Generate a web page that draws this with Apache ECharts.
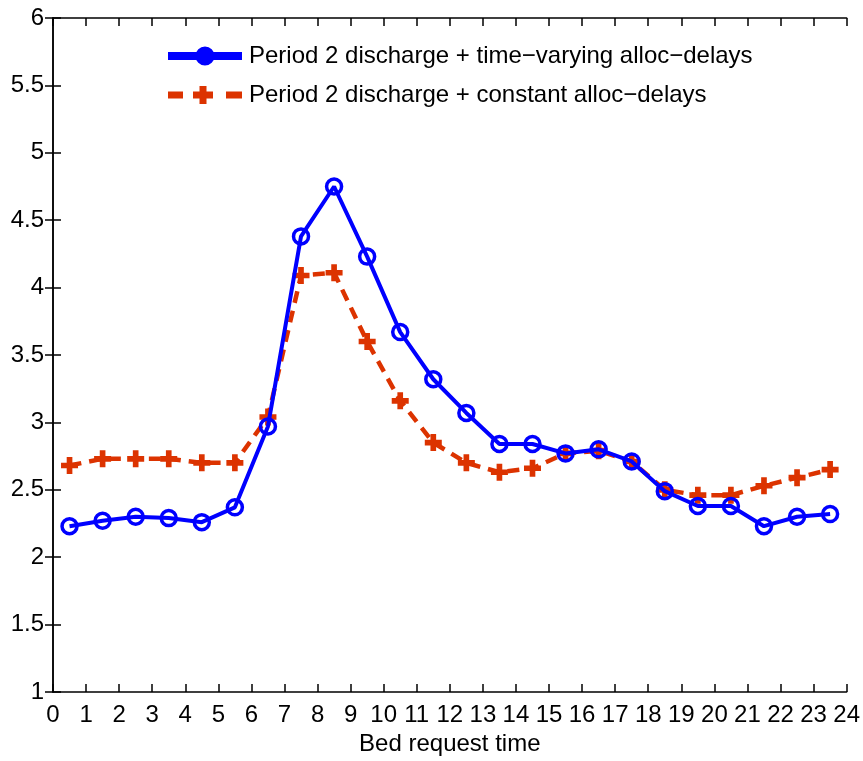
<!DOCTYPE html>
<html>
<head>
<meta charset="utf-8">
<script src="https://cdn.jsdelivr.net/npm/echarts@6/dist/echarts.min.js"></script>
<style>
  html, body { margin: 0; padding: 0; background: #fff; }
  #chart { width: 863px; height: 761px; }
</style>
</head>
<body>
<div id="chart"></div>
<script>
// Bed request hours (bin centres) and mean values per hour
const hours = [0.5, 1.5, 2.5, 3.5, 4.5, 5.5, 6.5, 7.5, 8.5, 9.5, 10.5, 11.5,
               12.5, 13.5, 14.5, 15.5, 16.5, 17.5, 18.5, 19.5, 20.5, 21.5, 22.5, 23.5];
const timeVarying = [2.23, 2.27, 2.30, 2.29, 2.26, 2.37, 2.97, 4.38, 4.75, 4.23, 3.67, 3.32,
                     3.07, 2.84, 2.84, 2.77, 2.80, 2.71, 2.49, 2.38, 2.38, 2.23, 2.30, 2.32];
const constantDelay = [2.68, 2.73, 2.73, 2.73, 2.70, 2.70, 3.04, 4.09, 4.11, 3.60, 3.16, 2.85,
                       2.70, 2.63, 2.66, 2.77, 2.79, 2.71, 2.50, 2.46, 2.46, 2.53, 2.59, 2.65];
const seriesNames = ['Period 2 discharge + time\u2212varying alloc\u2212delays',
                     'Period 2 discharge + constant alloc\u2212delays'];
const xTicks = { min: 0, max: 24, step: 1 };
const yTicks = { min: 1, max: 6, step: 0.5 };

const BLUE = '#0000ff';
const RED = '#dc3300';
const FONT = 'Liberation Sans, Arial, sans-serif';

const pair = (xs, ys) => xs.map((x, i) => [x, ys[i]]);

// legend glyphs: solid line with filled dot; dash-plus-dash
const blueIcon = 'path://M0 6 H74 V14 H0 Z M27.5 10 A9.5 9.5 0 1 1 46.5 10 A9.5 9.5 0 1 1 27.5 10 Z';
const redIcon = 'path://M0 6.5 H15 V13.5 H0 Z M31.5 1 H38.5 V6.5 H45 V13.5 H38.5 V19 H31.5 V13.5 H25 V6.5 H31.5 Z M58 6.5 H74 V13.5 H58 Z';
const plusSymbol = 'path://M-1 -3 H1 V-1 H3 V1 H1 V3 H-1 V1 H-3 V-1 H-1 Z';

const axisLine = { show: true, lineStyle: { color: '#000', width: 1.5 } };
const ticksIn = { show: true, inside: true, length: 8, lineStyle: { color: '#000', width: 1.5 } };
const labelStyle = { color: '#000', fontSize: 24, fontFamily: FONT };

const chart = echarts.init(document.getElementById('chart'));
chart.setOption({
  animation: false,
  backgroundColor: '#fff',
  grid: { left: 53, right: 15, top: 18, bottom: 69 },
  legend: {
    orient: 'vertical',
    left: 168,
    top: 44,
    padding: 0,
    itemWidth: 74,
    itemHeight: 20,
    itemGap: 15,
    textStyle: { color: '#000', fontSize: 24, fontFamily: FONT, padding: [0, 0, 0, 2] },
    data: [
      { name: seriesNames[0], icon: blueIcon, itemStyle: { color: BLUE, borderWidth: 0 } },
      { name: seriesNames[1], icon: redIcon, itemStyle: { color: RED, borderWidth: 0 } }
    ]
  },
  xAxis: [
    {
      type: 'value', min: xTicks.min, max: xTicks.max, interval: xTicks.step,
      position: 'bottom',
      axisLine, axisTick: ticksIn,
      axisLabel: Object.assign({ margin: 11 }, labelStyle),
      splitLine: { show: false },
      name: 'Bed request time', nameLocation: 'middle', nameGap: 40,
      nameTextStyle: { color: '#000', fontSize: 24, fontFamily: FONT }
    },
    {
      type: 'value', min: xTicks.min, max: xTicks.max, interval: xTicks.step,
      position: 'top',
      axisLine, axisTick: ticksIn,
      axisLabel: { show: false }, splitLine: { show: false }
    }
  ],
  yAxis: [
    {
      type: 'value', min: yTicks.min, max: yTicks.max, interval: yTicks.step,
      position: 'left',
      axisLine, axisTick: ticksIn,
      axisLabel: Object.assign({ margin: 9 }, labelStyle),
      splitLine: { show: false }
    },
    {
      type: 'value', min: yTicks.min, max: yTicks.max, interval: yTicks.step,
      position: 'right',
      axisLine, axisTick: ticksIn,
      axisLabel: { show: false }, splitLine: { show: false }
    }
  ],
  series: [
    {
      name: seriesNames[1],
      type: 'line',
      data: pair(hours, constantDelay),
      lineStyle: { color: RED, width: 4.5, type: [12, 8] },
      symbol: plusSymbol,
      symbolSize: 17,
      itemStyle: { color: RED, borderWidth: 0 },
      z: 2
    },
    {
      name: seriesNames[0],
      type: 'line',
      data: pair(hours, timeVarying),
      lineStyle: { color: BLUE, width: 4 },
      symbol: 'circle',
      symbolSize: 15,
      showAllSymbol: true,
      itemStyle: { color: 'transparent', borderColor: BLUE, borderWidth: 3.5 },
      z: 3
    }
  ]
});
</script>
</body>
</html>
